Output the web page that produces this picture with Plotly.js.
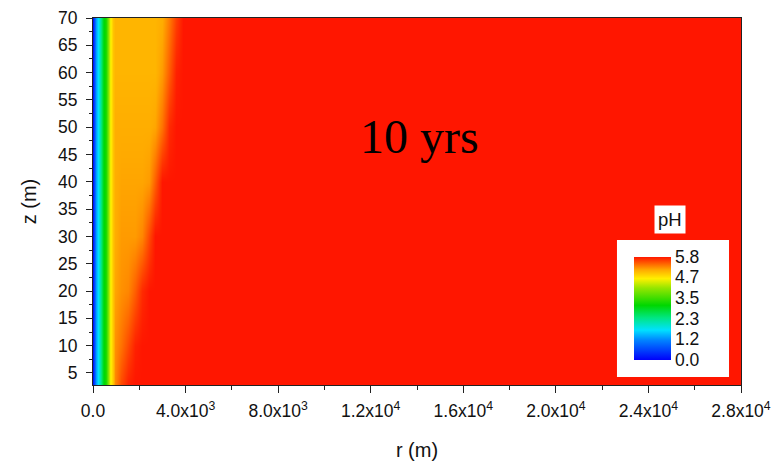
<!DOCTYPE html>
<html>
<head>
<meta charset="utf-8">
<script src="https://cdn.plot.ly/plotly-3.0.1.min.js"></script>
<style>html,body{margin:0;padding:0;background:#fff;}#chart{width:780px;height:464px;}</style>
</head>
<body>
<div id="chart"></div>
<script>
// radial distance r (m), column centres
const rCoords = [0, 60, 150, 250, 350, 450, 550, 650, 750, 850, 950, 1200, 1500, 1800, 2100, 2400, 2700, 3000, 3300, 3600, 3900, 4500, 28000];
// depth z (m), row centres
const zCoords = [2.8, 10, 20, 30, 40, 50, 60, 70];
// pH values per row (bottom to top)
const pH_z03 = [0.2, 0.6, 1.3, 1.9, 2.4, 2.9, 3.3, 3.9, 4.5, 4.9, 5.25, 5.55, 5.75, 5.8, 5.8, 5.8, 5.8, 5.8, 5.8, 5.8, 5.8, 5.8, 5.8];
const pH_z10 = [0.2, 0.6, 1.3, 1.9, 2.4, 2.9, 3.3, 3.9, 4.5, 4.9, 5.2, 5.35, 5.55, 5.75, 5.8, 5.8, 5.8, 5.8, 5.8, 5.8, 5.8, 5.8, 5.8];
const pH_z20 = [0.2, 0.6, 1.3, 1.9, 2.4, 2.9, 3.3, 3.9, 4.5, 4.9, 5.1, 5.2, 5.25, 5.45, 5.7, 5.8, 5.8, 5.8, 5.8, 5.8, 5.8, 5.8, 5.8];
const pH_z30 = [0.2, 0.6, 1.3, 1.9, 2.4, 2.9, 3.3, 3.9, 4.5, 4.9, 5.05, 5.15, 5.15, 5.15, 5.25, 5.55, 5.8, 5.8, 5.8, 5.8, 5.8, 5.8, 5.8];
const pH_z40 = [0.2, 0.6, 1.3, 1.9, 2.4, 2.9, 3.3, 3.9, 4.5, 4.9, 5.05, 5.1, 5.1, 5.1, 5.1, 5.15, 5.45, 5.8, 5.8, 5.8, 5.8, 5.8, 5.8];
const pH_z50 = [0.2, 0.6, 1.3, 1.9, 2.4, 2.9, 3.3, 3.9, 4.5, 4.9, 5.05, 5.05, 5.05, 5.05, 5.05, 5.05, 5.1, 5.35, 5.7, 5.8, 5.8, 5.8, 5.8];
const pH_z60 = [0.2, 0.6, 1.3, 1.9, 2.4, 2.9, 3.3, 3.9, 4.5, 4.9, 5.0, 5.0, 5.0, 5.0, 5.0, 5.0, 5.0, 5.15, 5.45, 5.75, 5.8, 5.8, 5.8];
const pH_z70 = [0.2, 0.6, 1.3, 1.9, 2.4, 2.9, 3.3, 3.9, 4.5, 4.9, 5.0, 5.0, 5.0, 5.0, 5.0, 5.0, 5.0, 5.05, 5.3, 5.6, 5.8, 5.8, 5.8];
const pHRows = [pH_z03, pH_z10, pH_z20, pH_z30, pH_z40, pH_z50, pH_z60, pH_z70];

const xTickVals = [0, 4000, 8000, 12000, 16000, 20000, 24000, 28000];
const xTickText = ['0.0', '4.0x10<sup>3</sup>', '8.0x10<sup>3</sup>', '1.2x10<sup>4</sup>', '1.6x10<sup>4</sup>', '2.0x10<sup>4</sup>', '2.4x10<sup>4</sup>', '2.8x10<sup>4</sup>'];
const yTickVals = [5, 10, 15, 20, 25, 30, 35, 40, 45, 50, 55, 60, 65, 70];
const cbTickVals = [0.0, 1.2, 2.3, 3.5, 4.7, 5.8];
const cbTickText = ['0.0', '1.2', '2.3', '3.5', '4.7', '5.8'];

const colorscale = [
  [0.00, 'rgb(0,0,250)'],
  [0.19, 'rgb(0,130,255)'],
  [0.29, 'rgb(0,225,255)'],
  [0.41, 'rgb(0,230,130)'],
  [0.53, 'rgb(0,215,0)'],
  [0.70, 'rgb(150,230,0)'],
  [0.79, 'rgb(255,240,0)'],
  [0.875, 'rgb(255,170,0)'],
  [1.00, 'rgb(255,22,0)']
];

const font = 'Liberation Sans, Arial, sans-serif';

const trace = {
  type: 'heatmap',
  x: rCoords,
  y: zCoords,
  z: pHRows,
  zmin: 0,
  zmax: 5.8,
  zsmooth: 'best',
  colorscale: colorscale,
  hoverinfo: 'skip',
  colorbar: {
    x: 0.8086, xanchor: 'left',
    y: 0.0218, yanchor: 'bottom',
    lenmode: 'pixels', len: 137,
    thicknessmode: 'pixels', thickness: 37,
    xpad: 17, ypad: 17,
    bgcolor: 'rgba(0,0,0,0)',
    borderwidth: 0,
    outlinewidth: 0,
    tickmode: 'array',
    tickvals: cbTickVals,
    ticktext: cbTickText,
    ticks: '',
    tickfont: {family: font, size: 17.5, color: '#111'}
  }
};

const layout = {
  width: 780, height: 464,
  margin: {l: 93, r: 39, t: 18, b: 79},
  paper_bgcolor: 'white',
  plot_bgcolor: 'white',
  showlegend: false,
  font: {family: font, color: '#111'},
  xaxis: {
    range: [0, 28000],
    tickmode: 'array', tickvals: xTickVals, ticktext: xTickText,
    ticks: 'outside', ticklen: 7, tickcolor: '#222',
    minor: {tickmode: 'linear', tick0: 0, dtick: 2000, ticks: 'outside', ticklen: 4, tickcolor: '#222'},
    showline: true, linecolor: '#222', linewidth: 1, mirror: true,
    showgrid: false, zeroline: false,
    ticklabelstandoff: 3,
    tickfont: {family: font, size: 17.5, color: '#111'},
    title: {text: 'r (m)', font: {family: font, size: 20, color: '#111'}, standoff: 22}
  },
  yaxis: {
    range: [2.8, 70],
    tickmode: 'array', tickvals: yTickVals,
    ticks: 'outside', ticklen: 6, tickcolor: '#222',
    minor: {tickmode: 'linear', tick0: 0, dtick: 2.5, ticks: 'outside', ticklen: 3, tickcolor: '#222'},
    showline: true, linecolor: '#222', linewidth: 1, mirror: true,
    showgrid: false, zeroline: false,
    ticklabelstandoff: 5,
    tickfont: {family: font, size: 17.5, color: '#111'},
    title: {text: 'z (m)', font: {family: font, size: 20, color: '#111'}, standoff: 16}
  },
  shapes: [
    {type: 'rect', xref: 'paper', yref: 'paper', layer: 'above',
     x0: 0.8086, x1: 0.9815, y0: 0.0218, y1: 0.3951,
     fillcolor: 'white', line: {width: 0}}
  ],
  annotations: [
    {
      xref: 'paper', yref: 'paper', x: 0.5046, y: 0.678,
      xanchor: 'center', yanchor: 'middle', showarrow: false,
      text: '10 yrs',
      font: {family: 'Liberation Serif, Times New Roman, serif', size: 48, color: '#000'}
    },
    {
      xref: 'paper', yref: 'paper', x: 0.8904, y: 0.4496,
      xanchor: 'center', yanchor: 'middle', showarrow: false,
      text: 'pH', bgcolor: 'white', borderpad: 3,
      font: {family: font, size: 18.5, color: '#111'}
    }
  ]
};

Plotly.newPlot('chart', [trace], layout, {displayModeBar: false, staticPlot: true});
</script>
</body>
</html>
